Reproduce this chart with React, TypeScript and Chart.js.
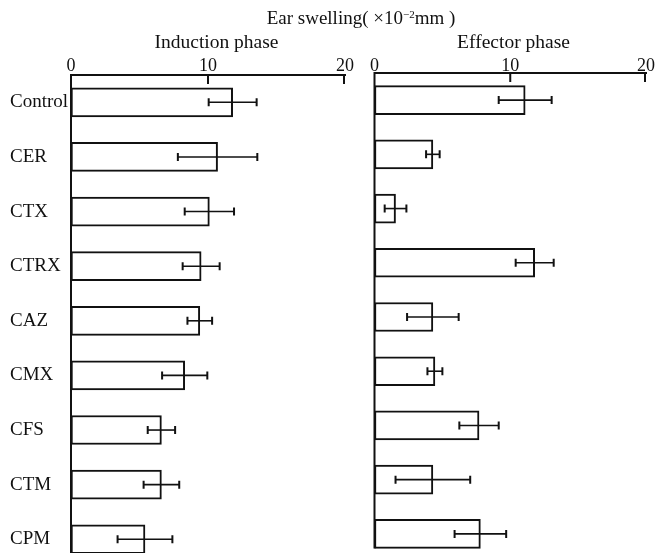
import React, { useEffect, useRef } from "react";
import { Chart, registerables } from "chart.js";

Chart.register(...registerables);

const categories = ["Control", "CER", "CTX", "CTRX", "CAZ", "CMX", "CFS", "CTM", "CPM"];
const inductionMeans = [11.8, 10.7, 10.1, 9.5, 9.4, 8.3, 6.6, 6.6, 5.4];
const inductionErrors = [1.75, 2.9, 1.8, 1.35, 0.9, 1.65, 1.0, 1.3, 2.0];
const effectorMeans = [11.1, 4.3, 1.55, 11.8, 4.3, 4.45, 7.7, 4.3, 7.8];
const effectorErrors = [1.95, 0.5, 0.8, 1.4, 1.9, 0.55, 1.45, 2.75, 1.9];
const xTickValues = [0, 10, 20];
const xMin = 0;
const xMax = 20;

const INK = "#111";
const FONT = "'Liberation Serif', 'Times New Roman', serif";

const errorBarsPlugin = {
  id: "errorBars",
  afterDatasetsDraw(chart: any, _args: any, opts: any) {
    const { ctx } = chart;
    const x = chart.scales.x;
    const meta = chart.getDatasetMeta(0);
    const vals = chart.data.datasets[0].data as number[];
    const errs: number[] = opts.errors || [];
    ctx.save();
    ctx.strokeStyle = INK;
    meta.data.forEach((bar: any, i: number) => {
      const y = bar.y;
      const lo = x.getPixelForValue(vals[i] - errs[i]);
      const hi = x.getPixelForValue(vals[i] + errs[i]);
      ctx.lineWidth = 1.6;
      ctx.beginPath();
      ctx.moveTo(lo, y);
      ctx.lineTo(hi, y);
      ctx.stroke();
      ctx.lineWidth = 2;
      ctx.beginPath();
      ctx.moveTo(lo, y - 4);
      ctx.lineTo(lo, y + 4);
      ctx.moveTo(hi, y - 4);
      ctx.lineTo(hi, y + 4);
      ctx.stroke();
    });
    ctx.restore();
  },
};

const axisDecorPlugin = {
  id: "axisDecor",
  afterDraw(chart: any, _args: any, opts: any) {
    const { ctx, chartArea } = chart;
    const x = chart.scales.x;
    ctx.save();
    ctx.strokeStyle = INK;
    ctx.lineWidth = 2;
    // inward ticks from the top axis line
    ctx.beginPath();
    x.ticks.forEach((t: any) => {
      if (t.value === xMin) return;
      const px = Math.min(x.getPixelForValue(t.value), chartArea.right - 1);
      ctx.moveTo(px, chartArea.top);
      ctx.lineTo(px, chartArea.top + 9);
    });
    ctx.stroke();
    // vertical base axis line
    const meta = chart.getDatasetMeta(0);
    const last = meta.data[meta.data.length - 1] as any;
    const bottom = opts.toLastBar ? last.y + last.height / 2 : chartArea.bottom + 20;
    ctx.beginPath();
    ctx.moveTo(chartArea.left, chartArea.top - 1);
    ctx.lineTo(chartArea.left, bottom);
    ctx.stroke();
    ctx.restore();
  },
};

type PanelProps = {
  means: number[];
  errors: number[];
  showLabels: boolean;
  left: number;
  width: number;
  height: number;
  padLeft: number;
  padRight: number;
  axisHeight: number;
  labelWidth: number;
  tickPad: number;
  toLastBar: boolean;
};

function Panel(p: PanelProps) {
  const ref = useRef<HTMLCanvasElement | null>(null);
  useEffect(() => {
    if (!ref.current) return;
    Chart.defaults.font.family = FONT;
    Chart.defaults.color = INK;
    const chart = new Chart(ref.current, {
      type: "bar",
      data: {
        labels: categories,
        datasets: [
          {
            data: p.means,
            backgroundColor: "#fff",
            borderColor: INK,
            borderWidth: 2,
            borderSkipped: false,
            barThickness: 29,
          },
        ],
      },
      options: {
        indexAxis: "y",
        responsive: false,
        maintainAspectRatio: false,
        animation: false,
        layout: { padding: { left: p.padLeft, right: p.padRight, top: 0, bottom: 0 } },
        plugins: {
          legend: { display: false },
          tooltip: { enabled: false },
          errorBars: { errors: p.errors },
          axisDecor: { toLastBar: p.toLastBar },
        } as any,
        scales: {
          x: {
            type: "linear",
            position: "top",
            min: xMin,
            max: xMax,
            afterBuildTicks: (scale: any) => {
              scale.ticks = xTickValues.map((v) => ({ value: v }));
            },
            afterFit: (scale: any) => {
              scale.height = p.axisHeight;
            },
            ticks: {
              font: { size: 18, family: FONT },
              color: INK,
              padding: p.tickPad,
              maxRotation: 0,
            },
            grid: { display: false, tickLength: 0 },
            border: { display: true, width: 2, color: INK },
          },
          y: {
            type: "category",
            offset: true,
            afterFit: (scale: any) => {
              scale.width = p.labelWidth;
            },
            ticks: {
              display: p.showLabels,
              font: { size: 19, family: FONT },
              color: INK,
              crossAlign: "far",
              padding: 0,
            },
            grid: { display: false, tickLength: 0 },
            border: { display: false },
          },
        },
      } as any,
      plugins: [errorBarsPlugin, axisDecorPlugin],
    });
    return () => chart.destroy();
  }, []);
  return (
    <canvas
      ref={ref}
      width={p.width}
      height={p.height}
      style={{ position: "absolute", left: p.left, top: 0, width: p.width, height: p.height }}
    />
  );
}

const textBase: React.CSSProperties = {
  position: "absolute",
  fontFamily: FONT,
  color: INK,
  whiteSpace: "nowrap",
  transform: "translateX(-50%)",
  lineHeight: "19px",
};

export default function App() {
  return (
    <div
      style={{
        position: "fixed",
        left: 0,
        top: 0,
        width: 655,
        height: 553,
        overflow: "hidden",
        background: "#fff",
      }}
    >
      <Panel
        means={inductionMeans}
        errors={inductionErrors}
        showLabels={true}
        left={0}
        width={360}
        height={578}
        padLeft={10}
        padRight={15}
        axisHeight={75}
        labelWidth={61}
        tickPad={-2}
        toLastBar={false}
      />
      <Panel
        means={effectorMeans}
        errors={effectorErrors}
        showLabels={false}
        left={360}
        width={295}
        height={561}
        padLeft={14.5}
        padRight={9}
        axisHeight={73}
        labelWidth={0}
        tickPad={-4}
        toLastBar={true}
      />
      <div style={{ ...textBase, left: 361, top: 8, fontSize: 19 }}>
        Ear swelling( ×10<sup style={{ fontSize: 11, verticalAlign: "6px", lineHeight: 0 }}>−2</sup>mm )
      </div>
      <div style={{ ...textBase, left: 216.5, top: 32, fontSize: 19.5 }}>Induction phase</div>
      <div style={{ ...textBase, left: 513.5, top: 32, fontSize: 19.5 }}>Effector phase</div>
    </div>
  );
}
